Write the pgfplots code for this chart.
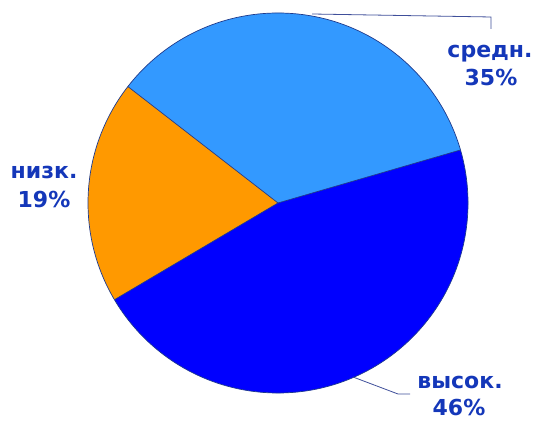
\documentclass[border=0pt]{standalone}
\usepackage{pgfplots}
\pgfplotsset{compat=1.18}
\usepackage{pgfplotstable}
\usepackage{fontspec}
\setmainfont{DejaVu Sans}
\newfontfamily\lblfont{DejaVu Sans Bold}
\definecolor{cmid}{HTML}{3399FF}
\definecolor{clow}{HTML}{FF9900}
\definecolor{chigh}{HTML}{0000FF}
\definecolor{cedge}{HTML}{1E3A8C}
\definecolor{ctext}{HTML}{1437B9}
\definecolor{cline}{HTML}{3F4F9A}
\tikzset{lbl/.style={ctext, font=\lblfont\fontsize{22bp}{28bp}\selectfont, anchor=base, inner sep=0pt}}

% share of each slice, in per cent, in drawing order (counter-clockwise)
\pgfplotstableread{
label value
mid   35
low   19
high  46
}\piedata

\pgfplotstablegetelem{0}{value}\of\piedata \let\vMid\pgfplotsretval
\pgfplotstablegetelem{1}{value}\of\piedata \let\vLow\pgfplotsretval
\pgfplotstablegetelem{2}{value}\of\piedata \let\vHigh\pgfplotsretval

\pgfmathsetmacro\aA{16.2}
\pgfmathsetmacro\aB{\aA+3.6*\vMid}
\pgfmathsetmacro\aC{\aB+3.6*\vLow}
\pgfmathsetmacro\aD{\aC+3.6*\vHigh}
\def\cx{278}
\def\cy{218}
\def\R{190}

\begin{document}
\begin{tikzpicture}
\begin{axis}[
  scale only axis, width=536bp, height=421bp,
  xmin=0, xmax=536, ymin=0, ymax=421,
  hide axis, clip=false,
]
\fill[cmid] (axis cs:\cx,\cy) -- (axis cs:{\cx+\R*cos(\aA)},{\cy+\R*sin(\aA)})
  arc[start angle=\aA, end angle=\aB, radius=\R bp] -- cycle;
\fill[clow] (axis cs:\cx,\cy) -- (axis cs:{\cx+\R*cos(\aB)},{\cy+\R*sin(\aB)})
  arc[start angle=\aB, end angle=\aC, radius=\R bp] -- cycle;
\fill[chigh] (axis cs:\cx,\cy) -- (axis cs:{\cx+\R*cos(\aC)},{\cy+\R*sin(\aC)})
  arc[start angle=\aC, end angle=\aD, radius=\R bp] -- cycle;
\draw[cedge, line width=0.7bp] (axis cs:\cx,\cy) circle[radius=\R bp];
\draw[cedge, line width=0.7bp] (axis cs:\cx,\cy) -- (axis cs:{\cx+\R*cos(\aA)},{\cy+\R*sin(\aA)});
\draw[cedge, line width=0.7bp] (axis cs:\cx,\cy) -- (axis cs:{\cx+\R*cos(\aB)},{\cy+\R*sin(\aB)});
\draw[cedge, line width=0.7bp] (axis cs:\cx,\cy) -- (axis cs:{\cx+\R*cos(\aC)},{\cy+\R*sin(\aC)});
% leader lines
\draw[cline, line width=0.8bp] (axis cs:312,407) -- (axis cs:491,404) -- (axis cs:491,392);
\draw[cline, line width=0.8bp] (axis cs:353,44) -- (axis cs:398,27) -- (axis cs:410,27);
% labels
\node[lbl] at (axis cs:490,363) {средн.};
\node[lbl] at (axis cs:491,335) {35\%};
\node[lbl] at (axis cs:44,242) {низк.};
\node[lbl] at (axis cs:44,213) {19\%};
\node[lbl] at (axis cs:460,32) {высок.};
\node[lbl] at (axis cs:459,5) {46\%};
\end{axis}
\pgfresetboundingbox
\useasboundingbox (0,0) rectangle (536bp,421bp);
\end{tikzpicture}
\end{document}
